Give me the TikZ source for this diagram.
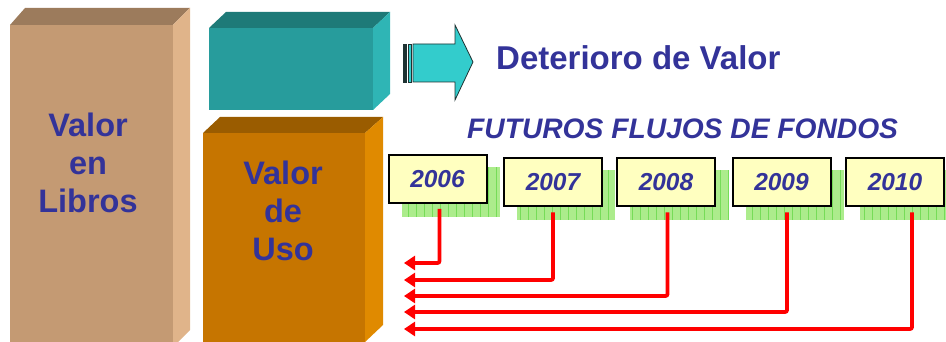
\documentclass[tikz,border=0pt]{standalone}
\usepackage{fontspec}
\setmainfont{Liberation Sans}
\usetikzlibrary{arrows.meta,calc}
\definecolor{txtblue}{RGB}{51,51,153}
\definecolor{brF}{RGB}{196,154,115}
\definecolor{brT}{RGB}{156,123,92}
\definecolor{brS}{RGB}{224,180,138}
\definecolor{tlF}{RGB}{39,156,156}
\definecolor{tlT}{RGB}{30,122,120}
\definecolor{tlS}{RGB}{47,181,181}
\definecolor{orF}{RGB}{198,117,0}
\definecolor{orT}{RGB}{154,92,0}
\definecolor{orS}{RGB}{224,138,0}
\definecolor{arrT}{RGB}{51,204,204}
\definecolor{arrD}{RGB}{30,50,50}
\definecolor{yearfill}{RGB}{255,255,192}
\definecolor{gridfill}{RGB}{172,236,140}
\definecolor{gridline}{RGB}{118,220,88}
\definecolor{redline}{RGB}{255,0,0}
\tikzset{
  bigtext/.style={text=txtblue,font=\fontsize{32.5}{38}\selectfont\bfseries,align=center,inner sep=0pt},
  yearbox/.style={draw=black,line width=2pt,fill=yearfill,minimum width=98pt,minimum height=48pt,inner sep=0pt,
    text=txtblue,font=\fontsize{24.5}{28}\selectfont\bfseries\itshape},
  redarrow/.style={draw=redline,line width=3.8pt,rounded corners=2pt,-{Triangle[length=11pt,width=14pt]},shorten <=5pt},
}
\newcommand{\gridshad}[2]{%
  \fill[gridfill] (#1,#2) rectangle ++(98,50);
  \draw[gridline,line width=0.7pt,step=8] (#1,#2) grid ++(98,50);
}
\begin{document}
\begin{tikzpicture}[x=1pt,y=-1pt]
\useasboundingbox (0,0) rectangle (946,342);
\clip (0,0) rectangle (946,342);
% Valor en Libros box
\fill[brF] (10,25) rectangle (173,360);
\fill[brT] (10,25) -- (25,8) -- (190,8) -- (173,25) -- cycle;
\fill[brS] (173,25) -- (190,8) -- (190,330) -- (173,347) -- cycle;
% teal box
\fill[tlF] (209,28) rectangle (373,110);
\fill[tlT] (209,28) -- (226,12) -- (390,12) -- (373,28) -- cycle;
\fill[tlS] (373,28) -- (390,12) -- (390,94) -- (373,110) -- cycle;
% orange box
\fill[orF] (203,133) rectangle (365,360);
\fill[orT] (203,133) -- (220,117) -- (383,117) -- (365,133) -- cycle;
\fill[orS] (365,133) -- (383,117) -- (383,325) -- (365,342) -- cycle;
% texts in boxes
\node[bigtext] (libros) at (88,163) {Valor\\en\\Libros};
\node[bigtext] (uso) at (283,211) {Valor\\de\\Uso};
% striped arrow
\filldraw[fill=arrD,draw=arrD,line width=0.8pt] (403,44) rectangle (406,82);
\filldraw[fill=arrT,draw=arrD,line width=0.8pt] (408,44) rectangle (411,82);
\filldraw[fill=arrT,draw=arrD,line width=0.8pt] (413,44) -- (455,44) -- (455,25) -- (473,62) -- (455,100) -- (455,82) -- (413,82) -- cycle;
\node[text=txtblue,font=\fontsize{33}{38}\selectfont\bfseries,anchor=west,inner sep=0pt] (deter) at (496,58) {Deterioro de Valor};
\node[text=txtblue,font=\fontsize{28.2}{30}\selectfont\bfseries\itshape,anchor=west,inner sep=0pt] (fut) at (467,129) {FUTUROS FLUJOS DE FONDOS};
% shadows
\gridshad{402}{167}
\gridshad{517}{170}
\gridshad{630}{170}
\gridshad{746}{170}
\gridshad{860}{170}
% year boxes
\node[yearbox] (y2006) at (437.5,179) {2006};
\node[yearbox] (y2007) at (553,182.5) {2007};
\node[yearbox] (y2008) at (666,182.5) {2008};
\node[yearbox] (y2009) at (781.5,182.5) {2009};
\node[yearbox] (y2010) at (895,182.5) {2010};
% arrow ends
\coordinate (e1) at (404,263);
\coordinate (e2) at (404,280);
\coordinate (e3) at (404,296);
\coordinate (e4) at (404,312);
\coordinate (e5) at (404,329);
\draw[redarrow] ([xshift=2pt]y2006.south) |- (e1);
\draw[redarrow] (y2007.south) |- (e2);
\draw[redarrow] ([xshift=1.5pt]y2008.south) |- (e3);
\draw[redarrow] ([xshift=5.5pt]y2009.south) |- (e4);
\draw[redarrow] ([xshift=17pt]y2010.south) |- (e5);
\end{tikzpicture}
\end{document}
